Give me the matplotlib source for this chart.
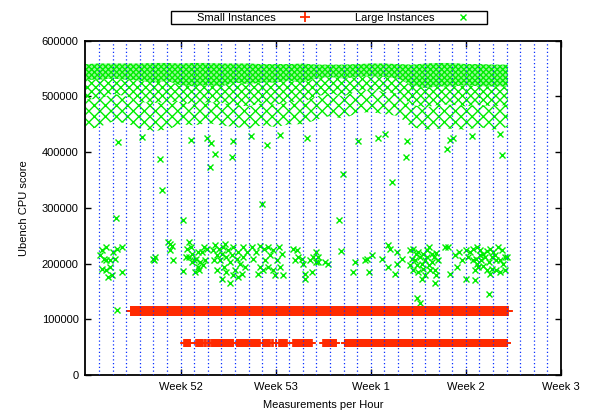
import numpy as np
import matplotlib.pyplot as plt
from matplotlib.patches import Rectangle

plt.rcParams['font.family'] = ['Liberation Sans', 'DejaVu Sans']
plt.rcParams['font.size'] = 8
plt.rcParams['hatch.linewidth'] = 1.0

RED = '#ff2a00'
GREEN = '#00ee00'
plt.rcParams['hatch.color'] = GREEN

# x axis is hours since start of week 51
week_hours = [168, 336, 504, 672, 840]
week_labels = ['Week 52', 'Week 53', 'Week 1', 'Week 2', 'Week 3']
day_hours = list(range(24, 840, 24))

# small instances, hourly runs: upper band (~115k) and lower band (~57k)
small_hi_start = [80]
small_hi_end = [746]
small_hi_score = [115000]
small_lo_start = [174, 196, 211, 217, 223, 267, 292, 314, 330, 336, 342, 367, 420, 458]
small_lo_end = [185, 207, 213, 220, 261, 288, 308, 326, 331, 337, 356, 400, 443, 745]
small_lo_score = 57000

# large instances, top cloud envelope per day (scores in thousands)
band_hours = [0, 24, 48, 72, 96, 120, 144, 168, 192, 216, 240, 264, 288, 312, 336, 360,
              384, 408, 432, 456, 480, 504, 528, 552, 576, 600, 624, 648, 672, 696, 720, 746]
band_top = [558, 559, 559, 559, 559, 560, 560, 559, 560, 560, 559, 559, 559, 558, 558, 558,
            559, 557, 557, 557, 558, 559, 559, 558, 557, 559, 560, 560, 558, 558, 557, 557]
band_dense = [530, 530, 532, 530, 528, 525, 528, 520, 518, 520, 518, 525, 522, 525, 525, 528,
              525, 532, 535, 532, 535, 536, 535, 532, 520, 515, 518, 518, 520, 518, 518, 518]
band_mid = [495, 495, 505, 500, 490, 488, 490, 490, 485, 490, 488, 485, 482, 488, 485, 490,
            490, 500, 505, 500, 510, 512, 508, 505, 485, 480, 485, 485, 482, 485, 482, 485]
band_low = [440, 445, 455, 452, 442, 438, 440, 450, 448, 452, 448, 445, 442, 448, 445, 450,
            450, 458, 465, 460, 470, 472, 468, 465, 445, 440, 442, 442, 440, 445, 440, 445]

# large instances, individual points (hour, score in thousands)
large_hours = [
    26, 30, 36, 33, 37, 30, 36, 43, 40, 46, 43, 52, 49, 56, 64, 64,
    119, 123, 121, 146, 150, 149, 154, 152,
    182, 179, 178, 172, 186, 189, 192, 188, 195, 198, 193, 201, 202, 205, 209, 214, 211, 207, 199, 183,
    225, 229, 232, 227, 235, 238, 241, 243, 245, 248, 252, 255, 258, 261, 264, 267, 270, 273, 276, 279,
    282, 249, 260, 241, 256, 232, 270, 246, 278, 285,
    294, 302, 308, 315, 323, 326, 317, 308, 314, 323, 332, 338, 341, 347, 344, 349, 335, 296, 305, 332,
    367, 373, 376, 370, 382, 385, 388, 388, 397, 408, 411, 402, 411, 408, 423, 429, 400,
    451, 473, 476, 494, 498, 506, 501, 523, 535, 538, 535, 547, 550, 559, 551,
    573, 579, 584, 588, 576, 582, 591, 597, 603, 607, 612, 616, 620, 600, 594, 585, 597, 606, 609, 600,
    594, 617, 620, 617, 623, 573, 579, 588, 603, 613,
    635, 641, 644, 653, 656, 665, 659,
    673, 679, 685, 691, 697, 703, 709, 715, 720, 729, 735, 741, 676, 684, 690, 698, 706, 712, 718, 726,
    732, 738, 688, 694, 703, 710, 718, 726, 732, 741, 673, 688, 712, 697, 723, 744, 691, 715,
    58, 99, 132, 136, 187, 214, 221, 228, 220, 258, 260, 292, 312, 320, 344, 391, 447, 455, 482, 517,
    529, 542, 566, 568, 639, 644, 650, 682, 732, 735, 172, 54, 55, 585, 591, 573, 616,
]
large_scores = [
    215, 224, 229, 209, 206, 191, 188, 194, 176, 179, 206, 208, 221, 227, 229, 184,
    208, 211, 206, 239, 236, 224, 206, 231,
    239, 226, 212, 187, 229, 218, 206, 203, 209, 194, 185, 188, 203, 221, 229, 227, 206, 197, 221, 212,
    224, 233, 215, 206, 227, 206, 218, 230, 194, 212, 224, 203, 215, 229, 188, 209, 221, 200, 182, 212,
    194, 185, 179, 172, 165, 188, 176, 236, 229, 221,
    229, 221, 231, 227, 229, 215, 206, 194, 188, 194, 188, 206, 230, 218, 194, 179, 179, 209, 182, 224,
    227, 224, 212, 206, 209, 200, 182, 173, 206, 221, 203, 212, 212, 203, 203, 199, 185,
    223, 185, 203, 206, 209, 215, 185, 209, 233, 227, 193, 182, 221, 208, 200,
    224, 227, 218, 221, 209, 206, 212, 218, 224, 229, 218, 212, 219, 206, 200, 197, 191, 197, 188, 179,
    173, 188, 179, 166, 206, 197, 188, 185, 212, 203,
    229, 229, 182, 215, 194, 206, 221,
    224, 221, 226, 229, 224, 218, 223, 226, 221, 229, 224, 212, 212, 206, 209, 206, 211, 203, 212, 206,
    206, 200, 188, 194, 196, 188, 191, 188, 185, 188, 173, 171, 145, 215, 215, 212, 200, 182,
    418, 428, 388, 332, 422, 425, 416, 397, 373, 391, 420, 429, 307, 413, 431, 425, 279, 361, 420, 425,
    432, 347, 391, 420, 405, 422, 425, 429, 432, 395, 279, 281, 117, 138, 129, 115, 115,
]

fig = plt.figure(figsize=(5.9, 4.11), dpi=100)
ax = fig.add_axes([0.1449, 0.0876, 0.8059, 0.8134])

# top cloud of large instances, from dense (top) to sparse (bottom)
ax.fill_between(band_hours, np.array(band_dense) * 1000, np.array(band_top) * 1000,
                facecolor=(0, 0.93, 0, 0.4), edgecolor=GREEN, hatch='xxxxxx', linewidth=0, zorder=2)
ax.fill_between(band_hours, np.array(band_mid) * 1000, np.array(band_dense) * 1000,
                facecolor='none', edgecolor=GREEN, hatch='xxxx', linewidth=0, zorder=2)
ax.fill_between(band_hours, np.array(band_low) * 1000, np.array(band_mid) * 1000,
                facecolor='none', edgecolor=GREEN, hatch='xxx', linewidth=0, zorder=2)
ax.plot(large_hours, np.array(large_scores) * 1000, linestyle='none', marker='x', ms=4, mew=1,
        color=GREEN, label='Large Instances', zorder=2)

# small instances
for s, e, v in zip(small_hi_start, small_hi_end, small_hi_score):
    h = np.arange(s, e + 1)
    ax.plot(h, np.full(len(h), v), linestyle='none', marker='+', ms=7, mew=1.3, color=RED,
            label='Small Instances' if s == small_hi_start[0] else None, zorder=2)
for s, e in zip(small_lo_start, small_lo_end):
    h = np.arange(s, e + 1)
    ax.plot(h, np.full(len(h), small_lo_score), linestyle='none', marker='+', ms=5.5, mew=1.2,
            color=RED, zorder=2)

for d in day_hours:
    ax.axvline(d, color='#0a30ff', lw=0.9, linestyle=(0, (1, 2)), zorder=3)

ax.set_xlim(0, 840)
ax.set_ylim(0, 600000)
ax.set_xticks(week_hours)
ax.set_xticklabels(week_labels)
ax.set_yticks(range(0, 600001, 100000))
ax.tick_params(direction='in', length=4, width=1, top=True, right=True, pad=5)
ax.tick_params(axis='y', labelright=False)
for sp in ax.spines.values():
    sp.set_linewidth(1.3)
ax.set_xlabel('Measurements per Hour', labelpad=6)
ax.set_ylabel('Ubench CPU score', labelpad=9)

handles, labels = ax.get_legend_handles_labels()
order = [labels.index('Small Instances'), labels.index('Large Instances')]
fig.legend([handles[i] for i in order], [labels[i] for i in order], ncol=2, frameon=False,
           markerfirst=False, handlelength=2, handletextpad=1.6, columnspacing=3.5,
           loc='center', bbox_to_anchor=(0.5695, 0.957), borderpad=0.2)
fig.add_artist(Rectangle((171 / 590, (411 - 24) / 411), 316 / 590, 13 / 411, fill=False,
                         lw=1, edgecolor='black', transform=fig.transFigure))

fig.savefig('out.png', dpi=100)
